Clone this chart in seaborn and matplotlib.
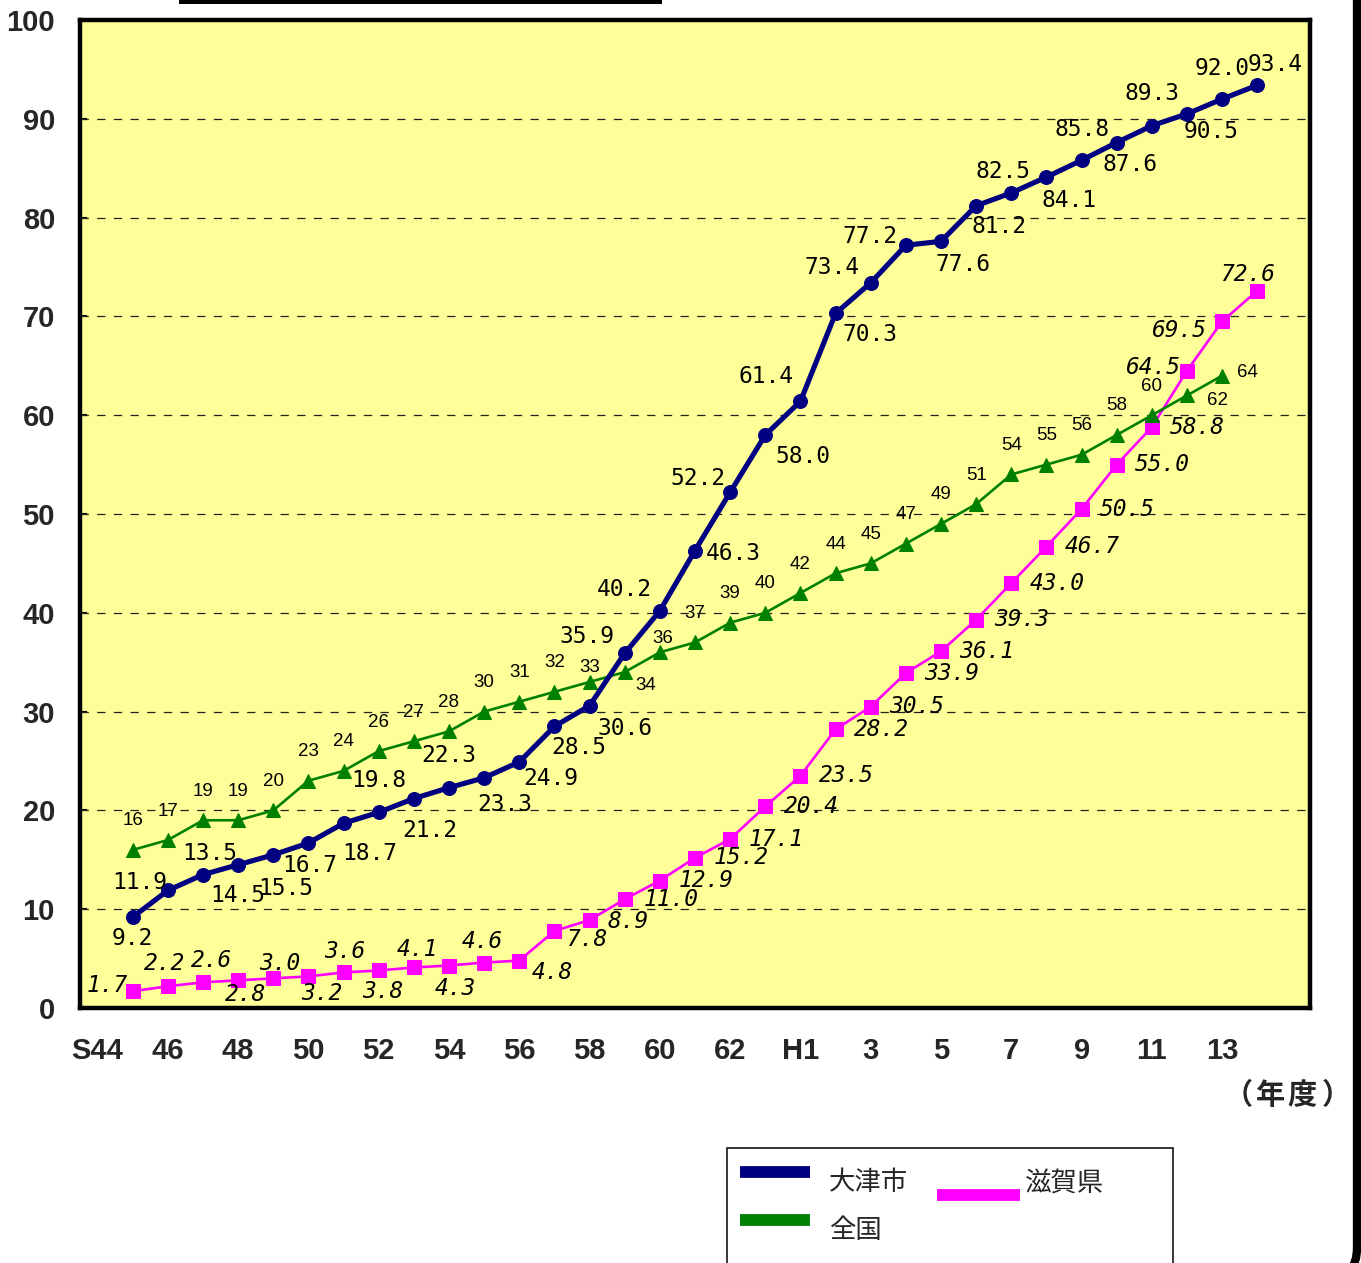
import matplotlib
matplotlib.use("Agg")
import matplotlib.pyplot as plt
from matplotlib.lines import Line2D
from matplotlib.patches import Rectangle, FancyBboxPatch
import seaborn as sns

# Fiscal-year categories S44 (1969) .. H15 (2003); labels on every second year
n_years = 35
tick_positions = list(range(0, 33, 2))
tick_labels = ["S44", "46", "48", "50", "52", "54", "56", "58", "60", "62",
               "H1", "3", "5", "7", "9", "11", "13"]

# Sewerage coverage (%) from S45 onward
otsu = [9.2, 11.9, 13.5, 14.5, 15.5, 16.7, 18.7, 19.8, 21.2, 22.3, 23.3, 24.9,
        28.5, 30.6, 35.9, 40.2, 46.3, 52.2, 58.0, 61.4, 70.3, 73.4, 77.2, 77.6,
        81.2, 82.5, 84.1, 85.8, 87.6, 89.3, 90.5, 92.0, 93.4]
national = [16, 17, 19, 19, 20, 23, 24, 26, 27, 28, 30, 31, 32, 33, 34, 36,
            37, 39, 40, 42, 44, 45, 47, 49, 51, 54, 55, 56, 58, 60, 62, 64]
shiga = [1.7, 2.2, 2.6, 2.8, 3.0, 3.2, 3.6, 3.8, 4.1, 4.3, 4.6, 4.8, 7.8, 8.9,
         11.0, 12.9, 15.2, 17.1, 20.4, 23.5, 28.2, 30.5, 33.9, 36.1, 39.3,
         43.0, 46.7, 50.5, 55.0, 58.8, 64.5, 69.5, 72.6]

otsu_x = list(range(1, 1 + len(otsu)))
national_x = list(range(1, 1 + len(national)))
shiga_x = list(range(1, 1 + len(shiga)))

# Value-label placement (pixel offsets from each marker)
otsu_off = [(0, -21), (-28, 8), (7, 21), (0, -31), (12, -34), (1, -22), (26, -30),
            (0, 32), (16, -32), (0, 32), (21, -27), (31, -17), (24, -21), (35, -23),
            (-38, 17), (-36, 21), (38, -3), (-32, 14), (38, -22), (-34, 25),
            (34, -21), (-39, 15), (-36, 9), (22, -23), (23, -21), (-8, 21),
            (23, -23), (0, 31), (13, -22), (0, 32), (24, -18), (0, 31), (18, 21)]
national_off = [(0, 29)] * 13 + [(0, 14), (21, -13), (3, 14)] + [(0, 29)] * 14 + [(30, -5), (25, 3)]
shiga_off = [(-25, 6), (-3, 23), (9, 22), (7, -14), (7, 15), (13, -17), (1, 21),
             (4, -21), (3, 18), (6, -23), (-2, 21), (33, -12), (32, -9), (39, -1)] \
    + [(46, 0)] * 16 + [(-34, 3), (-43, -9), (-10, 16)]

NAVY = "#000080"
GREEN = "#008000"
MAGENTA = "#FF00FF"
PANEL = "#FFFF99"

sns.set_style("white")
plt.rcParams["lines.scale_dashes"] = False

W, H = 1361, 1263


def fx(x):
    return x / W


def fy(y):
    return 1 - y / H


fig = plt.figure(figsize=(W / 100, H / 100), dpi=100)
fig.patch.set_facecolor("white")
ax = fig.add_axes([fx(80), fy(1008), fx(1310) - fx(80), fy(20) - fy(1008)])
ax.set_facecolor(PANEL)

# Lines with markers
sns.lineplot(x=shiga_x, y=shiga, ax=ax, color=MAGENTA, linewidth=1.9,
             marker="s", markersize=9.5, markeredgecolor=MAGENTA, zorder=3)
sns.lineplot(x=national_x, y=national, ax=ax, color=GREEN, linewidth=1.9,
             marker="^", markersize=10.5, markeredgecolor=GREEN, zorder=4)
sns.lineplot(x=otsu_x, y=otsu, ax=ax, color=NAVY, linewidth=3.7,
             marker="o", markersize=10, markeredgecolor=NAVY, zorder=5)

# Value labels
for xv, yv, (dx, dy) in zip(otsu_x, otsu, otsu_off):
    ax.annotate(f"{yv:.1f}", (xv, yv), xytext=(dx, dy), textcoords="offset pixels",
                ha="center", va="center", fontsize=16.5, family="DejaVu Sans Mono",
                color="black", zorder=6, annotation_clip=False)
for xv, yv, (dx, dy) in zip(national_x, national, national_off):
    ax.annotate(f"{yv:d}", (xv, yv), xytext=(dx, dy), textcoords="offset pixels",
                ha="center", va="center", fontsize=13.5, family="Liberation Sans",
                color="black", zorder=6, annotation_clip=False)
for xv, yv, (dx, dy) in zip(shiga_x, shiga, shiga_off):
    ax.annotate(f"{yv:.1f}", (xv, yv), xytext=(dx, dy), textcoords="offset pixels",
                ha="center", va="center", fontsize=16.5, family="DejaVu Sans Mono",
                style="italic", color="black", zorder=6, annotation_clip=False)

# Axes and grid
ax.set_xlim(-0.5, n_years - 0.5)
ax.set_ylim(0, 100)
ax.set_yticks(range(0, 101, 10))
ax.set_xticks(tick_positions)
ax.set_xticklabels(tick_labels)
ax.set_xticks([i + 0.5 for i in range(34)], minor=True)
ax.set_xlabel("")
ax.set_ylabel("")

for lbl in ax.get_xticklabels() + ax.get_yticklabels():
    lbl.set_fontfamily("Liberation Sans")
    lbl.set_fontweight("bold")
    lbl.set_fontsize(21)

ax.tick_params(axis="x", which="major", length=0, pad=21)
ax.tick_params(axis="x", which="minor", direction="in", length=5, width=1.5, color="black")
ax.tick_params(axis="y", which="major", direction="in", length=5, width=1.5,
               color="black", pad=18, left=True)

for y in range(10, 100, 10):
    ax.axhline(y, color="#222222", linewidth=0.9, linestyle=(0, (6, 6)), zorder=1)

for side in ["left", "right", "top", "bottom"]:
    ax.spines[side].set_visible(True)
    ax.spines[side].set_color("black")
    ax.spines[side].set_linewidth(3.2)

# Unit label
for x0, ch in [(1238, "（"), (1270, "年"), (1302, "度"), (1336, "）")]:
    fig.text(fx(x0), fy(1095), ch, ha="center", va="center", fontsize=21,
             fontweight="bold", family=["Noto Sans CJK JP"])

# Legend box
fig.add_artist(Rectangle((fx(727), fy(1275)), fx(1173) - fx(727), fy(1148) - fy(1275),
                         transform=fig.transFigure, facecolor="white",
                         edgecolor="black", linewidth=1.1))
for (x0, x1, yy, col) in [(740, 810, 1172, NAVY), (740, 810, 1220, GREEN),
                          (937, 1020, 1194.5, MAGENTA)]:
    fig.add_artist(Line2D([fx(x0), fx(x1)], [fy(yy), fy(yy)], transform=fig.transFigure,
                          color=col, linewidth=8.5, solid_capstyle="butt"))
for (x0, yy, txt) in [(829, 1183, "大津市"), (829, 1231, "全国"), (1025, 1183, "滋賀県")]:
    fig.text(fx(x0), fy(yy), txt, ha="left", va="center", fontsize=19,
             family=["Noto Sans CJK JP"])

# Page frame pieces
fig.add_artist(Rectangle((fx(179), fy(4)), fx(662) - fx(179), fy(0) - fy(4),
                         transform=fig.transFigure, facecolor="black", edgecolor="none"))
fig.add_artist(FancyBboxPatch((fx(-60), fy(1278)), fx(1357) - fx(-60), fy(-60) - fy(1278),
                              boxstyle="round,pad=0,rounding_size=0.022",
                              transform=fig.transFigure, facecolor="none",
                              edgecolor="black", linewidth=6, mutation_aspect=W / H))

fig.savefig("out.png", dpi=100)
